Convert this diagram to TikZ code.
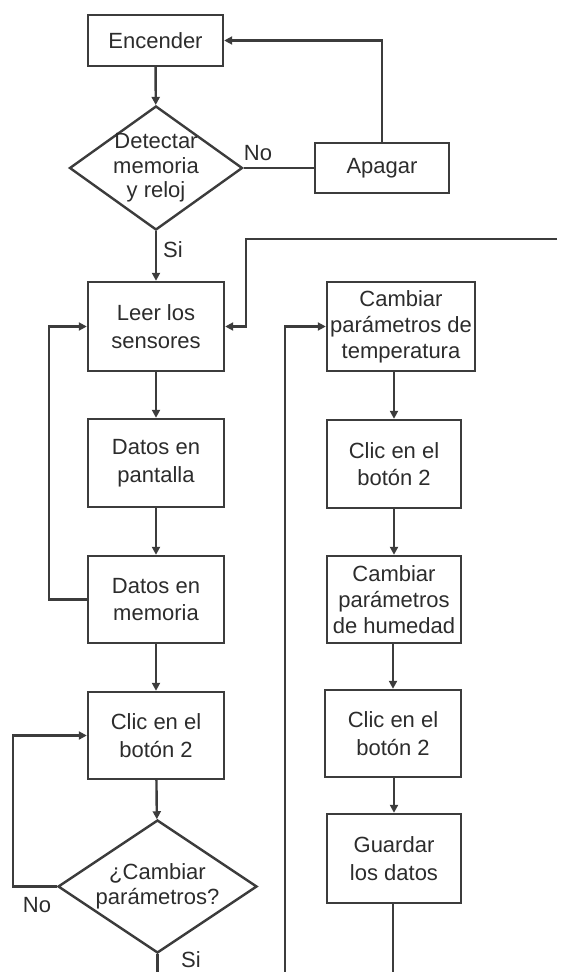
\documentclass[tikz,border=0pt]{standalone}
\usepackage{fontspec}
\setmainfont{Liberation Sans}
\usepackage{xcolor}
\usepackage{tikz}
\usetikzlibrary{arrows.meta, shapes.geometric}

\definecolor{linea}{HTML}{3C3C3C}
\definecolor{texto}{HTML}{2C2C2C}

\begin{document}
\begin{tikzpicture}[x=1pt, y=-1pt,
        caja/.style={draw=linea, line width=2.4pt, rectangle, align=center,
            text=texto, inner sep=0pt, font=\fontsize{22}{27.5}\selectfont},
        decision/.style={draw=linea, line width=2.4pt, diamond, align=center,
            text=texto, inner sep=-20pt, font=\fontsize{22}{24.5}\selectfont},
        etiqueta/.style={text=texto, inner sep=0pt, font=\fontsize{22}{26}\selectfont},
        flecha/.style={draw=linea, line width=2.4pt, -{Triangle[length=8pt,width=8pt]}},
        linea/.style={draw=linea, line width=2.4pt}]
        \useasboundingbox (0,0) rectangle (565,972);

        \coordinate (R) at (557,239);
        \coordinate (R1) at (246,239);
        \coordinate (B1) at (157.5,972);
        \coordinate (B2) at (285,972);
        \coordinate (B3) at (393,972);

        % columna izquierda
        \node[caja, minimum width=135, minimum height=51] (enc) at (155.5,40.5) {Encender};
        \node[decision, minimum width=173, minimum height=124] (det) at (156,168) {Detectar\\memoria\\y reloj};
        \node[caja, minimum width=134, minimum height=50] (apag) at (382,168) {Apagar};
        \node[caja, minimum width=136, minimum height=89] (leer) at (156,326.5) {Leer los\\sensores};
        \node[caja, minimum width=136, minimum height=88] (pant) at (156,463) {Datos en\\pantalla};
        \node[caja, minimum width=136, minimum height=87] (mem) at (156,599.5) {Datos en\\memoria};
        \node[caja, minimum width=136, minimum height=87] (clic1) at (156,735.5) {Clic en el\\bot\'on 2};
        \node[decision, minimum width=199, minimum height=133] (camb) at (157.5,886.5) {¿Cambiar\\par\'ametros?};

        % columna derecha
        \node[caja, minimum width=148, minimum height=89, font=\fontsize{22}{26}\selectfont] (temp) at (401,326.5) {Cambiar\\par\'ametros de\\temperatura};
        \node[caja, minimum width=134, minimum height=88] (clic2) at (394,464) {Clic en el\\bot\'on 2};
        \node[caja, minimum width=134, minimum height=87, font=\fontsize{22}{26}\selectfont] (hum) at (394,599.5) {Cambiar\\par\'ametros\\de humedad};
        \node[caja, minimum width=136, minimum height=87] (clic3) at (393,733.5) {Clic en el\\bot\'on 2};
        \node[caja, minimum width=134, minimum height=89] (guard) at (394,858.5) {Guardar\\los datos};

        \node[etiqueta] (no1) at (258,153) {No};
        \node[etiqueta] (si1) at (173,250) {Si};
        \node[etiqueta] (no2) at (37,905) {No};
        \node[etiqueta] (si2) at (191,960) {Si};

        \draw[flecha] (enc) -- (det);
        \draw[linea] (det.east) -- (apag.west);
        \draw[flecha] (apag.north) |- (enc.east);
        \draw[flecha] (det.south) -- (leer.north);
        \draw[flecha] (R) -- (R1) |- (leer.east);
        \draw[flecha] (leer) -- (pant);
        \draw[flecha] (pant) -- (mem);
        \draw[flecha] (mem.west) -- ++(-38,0) |- (leer.west);
        \draw[flecha] (mem) -- (clic1);
        \draw[flecha] (clic1) -- (camb);
        \draw[flecha] (camb.west) -- ++(-44,0) |- (clic1.west);
        \draw[linea] (camb.south) -- (B1);

        \draw[flecha] (B2) |- (temp.west);
        \draw[flecha] (temp.south -| clic2.north) -- (clic2.north);
        \draw[flecha] (clic2) -- (hum);
        \draw[flecha] (hum.south -| clic3.north) -- (clic3.north);
        \draw[flecha] (clic3.south -| guard.north) -- (guard.north);
        \draw[linea] (guard.south -| B3) -- (B3);
    \end{tikzpicture}
\end{document}
